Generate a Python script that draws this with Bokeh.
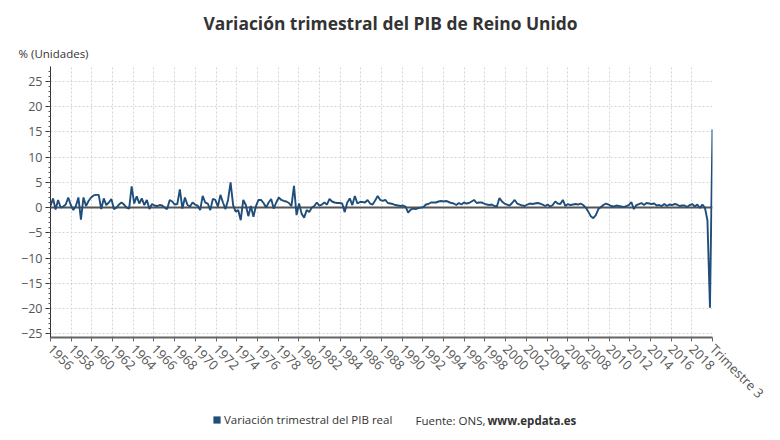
import math
from bokeh.plotting import figure
from bokeh.layouts import column
from bokeh.models import (FixedTicker, Span, Label, Legend, LegendItem, Range1d,
                          ColumnDataSource)
from bokeh.embed import file_html
from bokeh.resources import INLINE

# Quarterly GDP change (%), UK, from 1955 Q2 to 2020 Q3
gdp_1955_1959 = [0.3, 1.8, -0.4,
                 1.5, 0.0, 0.2, 0.6,
                 2.0, 0.5, -0.5, 0.3,
                 2.0, -2.4, 2.0, 0.3,
                 1.3, 2.0, 2.4, 2.5]
gdp_1960s = [2.5, -0.3, 1.8, 0.5,
             1.0, 1.7, -0.3, 0.0,
             0.6, 1.0, 0.6, 0.0,
             -0.2, 4.2, 0.8, 2.2,
             0.8, 1.8, 0.5, 1.5,
             -0.3, 0.7, 0.4, 0.3,
             0.5, 0.4, 0.0, -0.3,
             1.5, 1.2, 0.6, 0.7,
             3.6, -0.2, 2.0, 0.5,
             0.2, 1.0, 0.6, 0.4]
gdp_1970s = [-0.5, 2.3, 1.0, 0.8,
             -0.5, 1.7, 1.5, 0.2,
             2.5, 1.0, -0.3, 1.5,
             5.0, 0.5, -0.8, -0.5,
             -2.5, 1.5, 0.5, -1.7,
             0.3, -1.8, 0.3, 1.5,
             1.5, 0.9, 0.0, 1.0,
             1.7, -0.2, 1.0, 2.0,
             1.5, 1.3, 1.2, 0.9,
             0.3, 4.3, -1.5, 0.8]
gdp_1980s = [-1.2, -2.0, -0.5, -0.9,
             0.0, 0.3, 1.0, 0.4,
             0.6, 1.0, 0.6, 1.7,
             1.2, 1.0, 0.9, 0.9,
             0.8, -0.9, 1.0, 1.8,
             0.5, 2.3, 0.8, 1.1,
             1.1, 1.0, 1.5, 0.8,
             0.6, 1.4, 2.3, 1.5,
             1.3, 1.5, 0.9, 0.8,
             0.7, 0.5, 0.4, 0.3]
gdp_1990s = [0.4, 0.2, -1.0, -0.4,
             -0.2, -0.3, -0.1, 0.0,
             0.1, 0.6, 0.7, 1.0,
             1.0, 1.0, 1.2, 1.3,
             1.2, 1.3, 1.1, 0.9,
             0.8, 0.5, 0.9, 0.6,
             1.0, 0.8, 0.9, 1.2,
             1.5, 0.9, 1.0, 1.0,
             0.8, 0.6, 0.5, 0.6,
             0.3, 0.2, 1.9, 1.2]
gdp_2000s = [0.8, 0.6, 0.4, 0.9,
             1.5, 0.8, 0.6, 0.4,
             0.3, 0.6, 0.8, 0.7,
             0.8, 0.9, 0.8, 0.6,
             0.3, 0.6, 0.2, 0.5,
             1.2, 0.8, 0.7, 1.5,
             0.3, 0.7, 0.5, 0.6,
             0.7, 0.6, 0.8, 0.5,
             0.0, -0.8, -1.7, -2.1,
             -1.5, -0.3, 0.1, 0.5]
gdp_2010s = [0.8, 0.6, 0.3, 0.2,
             0.4, 0.3, 0.2, 0.1,
             0.3, 0.5, 1.1, -0.3,
             0.5, 0.7, 0.9, 0.5,
             0.9, 0.8, 0.7, 0.8,
             0.4, 0.5, 0.3, 0.7,
             0.3, 0.6, 0.5, 0.7,
             0.6, 0.3, 0.4, 0.4,
             0.1, 0.5, 0.7, 0.2,
             0.6, -0.1, 0.6, 0.0]
gdp_2020 = [-2.5, -19.8, 15.5]

year_labels = ["1956", "1958", "1960", "1962", "1964", "1966", "1968", "1970",
               "1972", "1974", "1976", "1978", "1980", "1982", "1984", "1986",
               "1988", "1990", "1992", "1994", "1996", "1998", "2000", "2002",
               "2004", "2006", "2008", "2010", "2012", "2014", "2016", "2018"]
last_label = "Trimestre 3"
y_tick_values = [-25, -20, -15, -10, -5, 0, 5, 10, 15, 20, 25]

values = (gdp_1955_1959 + gdp_1960s + gdp_1970s + gdp_1980s + gdp_1990s
          + gdp_2000s + gdp_2010s + gdp_2020)
xs = list(range(len(values)))
last = len(values) - 1
n_int = len(year_labels)
tick_pos = [last * k / n_int for k in range(n_int + 1)]
tick_text = year_labels + [last_label]

FONT = "Open Sans"
BLUE = "#1f4e7b"
TXT = "#333333"

src = ColumnDataSource(data=dict(x=xs, y=values))


def blank(h):
    f = figure(width=780, height=h, output_backend="svg", toolbar_location=None,
               x_range=Range1d(0, 780), y_range=Range1d(h, 0),
               x_axis_location=None, y_axis_location=None, title=None,
               min_border=0, frame_align=False)
    f.outline_line_color = None
    f.grid.visible = False
    return f


# ---- header ----
head = blank(62)
head.add_layout(Label(x=390, y=22, text="Variación trimestral del PIB de Reino Unido",
                      text_align="center", text_baseline="middle",
                      text_font=FONT, text_font_style="bold",
                      text_font_size="17.4px", text_color=TXT))
head.add_layout(Label(x=18, y=53, text="% (Unidades)", text_align="left",
                      text_baseline="middle", text_font=FONT,
                      text_font_size="11.5px", text_color=TXT))

# ---- main chart ----
p = figure(width=780, height=351, output_backend="svg", toolbar_location=None,
           x_range=Range1d(0, last), y_range=Range1d(-25.7, 27.9), title=None,
           min_border_left=50, min_border_right=68, min_border_top=4,
           min_border_bottom=76, frame_align=False)
p.outline_line_color = None

for g in (p.xgrid, p.ygrid):
    g.grid_line_color = "#d4d4d4"
    g.grid_line_dash = "2 2"
    g.grid_line_width = 1

p.yaxis.ticker = FixedTicker(ticks=y_tick_values,
                             minor_ticks=[v for v in range(-25, 28)])
p.yaxis.axis_line_color = "#333333"
p.yaxis.major_tick_line_color = "#333333"
p.yaxis.minor_tick_line_color = "#555555"
p.yaxis.major_tick_out = 5
p.yaxis.major_tick_in = 0
p.yaxis.minor_tick_out = 2
p.yaxis.minor_tick_in = 0
p.yaxis.major_label_text_font = FONT
p.yaxis.major_label_text_font_size = "12.5px"
p.yaxis.major_label_text_color = "#555555"
p.yaxis.major_label_standoff = 3

p.xaxis.ticker = FixedTicker(ticks=tick_pos, minor_ticks=[])
p.xaxis.major_label_overrides = {t: s for t, s in zip(tick_pos, tick_text)}
p.xaxis.major_label_orientation = -math.pi / 4
p.xaxis.axis_line_color = "#666666"
p.xaxis.axis_line_width = 2
p.xaxis.major_tick_line_color = "#666666"
p.xaxis.major_tick_out = 4
p.xaxis.major_tick_in = 0
p.xaxis.major_label_text_font = FONT
p.xaxis.major_label_text_font_size = "13px"
p.xaxis.major_label_text_color = "#555555"
p.xaxis.major_label_standoff = 5

p.add_layout(Span(location=0, dimension="width", line_color="#555555",
                  line_width=2, level="underlay"))

p.line("x", "y", source=src, line_color=BLUE, line_width=1.9)

# ---- footer (legend + source) ----
foot = blank(27)
swatch = foot.rect("x", "y", source=src, width=1, height=1, fill_color=BLUE,
                   line_color=None, visible=False)
foot.add_layout(Legend(items=[LegendItem(label="Variación trimestral del PIB real",
                                         renderers=[swatch])],
                       location=(212, 13), orientation="horizontal",
                       padding=0, margin=0, spacing=0,
                       glyph_width=9, glyph_height=9, label_height=14,
                       label_standoff=3, label_text_font=FONT,
                       label_text_font_size="11.5px", label_text_color=TXT,
                       inactive_fill_alpha=0,
                       background_fill_alpha=0, border_line_alpha=0))
foot.add_layout(Label(x=415, y=7, text="Fuente: ONS,", text_align="left",
                      text_baseline="middle", text_font=FONT,
                      text_font_size="11.5px", text_color=TXT))
foot.add_layout(Label(x=487, y=7, text="www.epdata.es", text_align="left",
                      text_baseline="middle", text_font=FONT,
                      text_font_style="bold", text_font_size="11.5px",
                      text_color=TXT))

layout = column(head, p, foot, spacing=0)
open("out.html", "w").write(file_html(layout, INLINE))
